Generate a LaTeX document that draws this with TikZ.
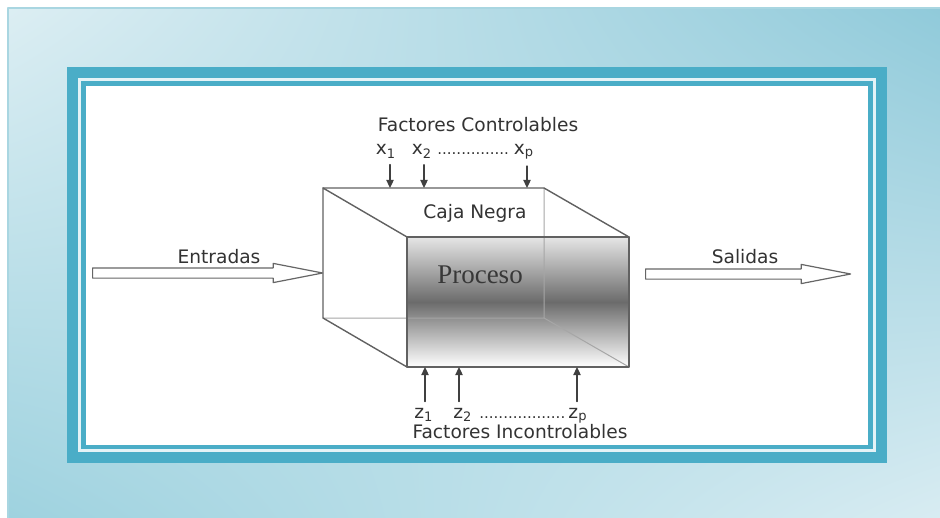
\documentclass[tikz,border=0pt]{standalone}
\usepackage{fontspec}
\setmainfont{DejaVu Sans}
\newfontfamily\procfont{Liberation Serif}
\usetikzlibrary{arrows.meta,shapes.arrows,shadings}
\definecolor{bandc}{HTML}{4AADC7}
\definecolor{gapc}{HTML}{E4F3F7}
\definecolor{bgA}{HTML}{DCEEF3}
\definecolor{bgB}{HTML}{90CADA}
\definecolor{bgC}{HTML}{9ED2DF}
\definecolor{bgD}{HTML}{D8ECF2}
\definecolor{bgline}{HTML}{A9D6E1}
\definecolor{txt}{HTML}{333333}
\begin{document}
\begin{tikzpicture}[>={Triangle[length=4pt,width=3.6pt]},line join=round,line cap=round,
  font=\fontsize{9.3}{11}\selectfont,x=.5pt,y=-.5pt,
  lbl/.style={text=txt,inner sep=0pt,anchor=base},
  dots/.style={text=txt,inner sep=0pt,anchor=base west,font=\fontsize{7.5}{9}\selectfont},
  fat/.style={single arrow,draw=black!60,line width=.6pt,fill=white,inner xsep=0pt,inner ysep=2.25pt,
    minimum width=9pt,single arrow head extend=2.25pt,single arrow tip angle=22,anchor=tail},
  pin/.style={->,draw=black!75,line width=.8pt,shorten <=3pt},
  edgeline/.style={draw=black!62,line width=.7pt},
  hidden/.style={draw=black!35,line width=.5pt}]
\useasboundingbox (0,0) rectangle (940,518);
% marco
\shade[upper left=bgA,upper right=bgB,lower left=bgC,lower right=bgD] (8,8) rectangle (940,518);
\draw[bgline,line width=.6pt] (8,518)--(8,8)--(940,8);
\fill[bandc] (67,67) rectangle (887,463);
\fill[gapc] (78,78) rectangle (876,452);
\fill[bandc] (81,81) rectangle (873,449);
\fill[white] (86,86) rectangle (868,445);
% caja
\def\xl{323} \def\xf{407} \def\xb{544} \def\xr{629}
\def\yt{188} \def\yf{237} \def\yb{318} \def\yl{367}
\fill[white] (\xl,\yt)--(\xb,\yt)--(\xr,\yf)--(\xr,\yl)--(\xf,\yl)--(\xl,\yb)--cycle;
\shade[top color=black!10,bottom color=white,middle color=black!58] (\xf,\yf) rectangle (\xr,\yl);
\draw[hidden] (\xb,\yt)--(\xb,\yb)--(\xl,\yb) (\xb,\yb)--(\xr,\yl);
\draw[edgeline] (\xl,\yt)--(\xf,\yf)--(\xf,\yl)--(\xl,\yb)--cycle;
\draw[edgeline] (\xl,\yt)--(\xb,\yt)--(\xr,\yf);
\draw[edgeline] (\xf,\yf) rectangle (\xr,\yl);
\node[lbl,text=black!78] (proc) at (480,283) {\procfont\fontsize{13.5}{15}\selectfont Proceso};
\node[lbl] (caja) at (475,218) {Caja Negra};
% factores controlables
\node[lbl] (ctrl) at (478,132) {Factores Controlables};
\node[lbl] (x1) at (386,155) {x\textsubscript{1}};
\node[lbl] (x2) at (422,155) {x\textsubscript{2}};
\node[dots] (xdots) at (437,155) {...............};
\node[lbl] (xp) at (524,155) {x\textsubscript{p}};
\coordinate (t1) at (390,\yt);
\coordinate (t2) at (424,\yt);
\coordinate (tp) at (527,\yt);
\draw[pin] (x1.south -| t1)--(t1);
\draw[pin] (x2.south -| t2)--(t2);
\draw[pin] (xp.south -| tp)--(tp);
% factores incontrolables
\node[lbl] (z1) at (424,418) {z\textsubscript{1}};
\node[lbl] (z2) at (463,418) {z\textsubscript{2}};
\node[dots] (zdots) at (479,418) {..................};
\node[lbl] (zp) at (578,418) {z\textsubscript{p}};
\node[lbl] (inctrl) at (520,438) {Factores Incontrolables};
\coordinate (b1) at (425,\yl);
\coordinate (b2) at (459,\yl);
\coordinate (bp) at (577,\yl);
\draw[pin] (z1.north -| b1)--(b1);
\draw[pin] (z2.north -| b2)--(b2);
\draw[pin] (zp.north -| bp)--(bp);
% entradas y salidas
\node[fat,minimum height=115pt] (inarrow) at (92,273) {};
\node[lbl] (entradas) at (219,263) {Entradas};
\node[fat,minimum height=102.5pt] (outarrow) at (645,274) {};
\node[lbl] (salidas) at (745,263) {Salidas};
\end{tikzpicture}
\end{document}
